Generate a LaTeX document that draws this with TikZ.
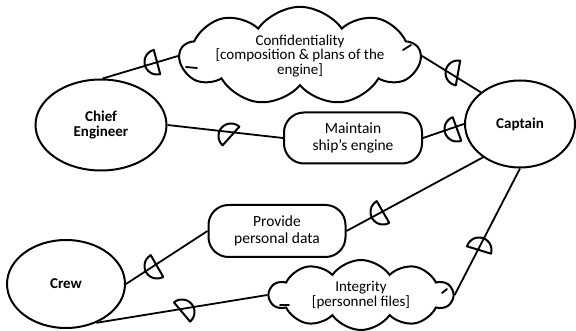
\documentclass[tikz,border=0pt]{standalone}
\usepackage{fontspec}
\setmainfont{Carlito}
\usetikzlibrary{shapes.symbols,shapes.geometric}
\begin{document}
\begin{tikzpicture}[x=1pt,y=-1pt,
  actor/.style={ellipse, draw, line width=2pt, font=\fontsize{15}{15}\selectfont\bfseries, align=center, inner sep=0pt},
  usecase/.style={rounded corners=20pt, draw, line width=2pt, font=\fontsize{15.5}{16.5}\selectfont, align=center, inner sep=0pt},
  goal/.style={cloud, cloud puffs=9, cloud puff arc=110, cloud ignores aspect, draw, line width=2pt, font=\fontsize{15}{14.5}\selectfont, align=center, inner sep=0pt},
  conn/.style={line width=1.8pt},
  tick/.style={line width=1.8pt, line cap=round},
  markline/.style={line width=2pt, line join=round},
  dmark/.pic={\draw[markline] plot[domain={#1-90}:{#1+90}, samples=25] ({12.5*cos(\x)},{12.5*sin(\x)}) -- cycle;}
]
\useasboundingbox[fill=white] (0,0) rectangle (576,331);

\node[actor, minimum width=131pt, minimum height=91pt] (chief) at (101,125) {Chief\\Engineer};
\node[actor, minimum width=110pt, minimum height=87pt] (captain) at (520,124) {Captain};
\node[actor, minimum width=118pt, minimum height=88pt] (crew) at (66,284) {Crew};

\node[goal, minimum width=240pt, minimum height=98pt] (conf) at (300,56) {Confidentiality\\{[}composition \& plans of the\\engine]};
\node[goal, cloud puffs=10, minimum width=183pt, minimum height=70pt] (integ) at (361,295) {Integrity\\{[}personnel files]};

\node[usecase, minimum width=138pt, minimum height=51pt] (maintain) at (353,138) {Maintain\\ship’s engine};
\node[usecase, minimum width=137pt, minimum height=52pt] (provide) at (277,231) {Provide\\personal data};

% small inner strokes of the clouds
\draw[tick] (186,67) -- (197,68);
\draw[tick] (403,50) -- (411,45);
\draw[tick] (280,305) -- (289,305);
\draw[tick] (442,293) -- (447,289);

\draw[conn] (chief.88) -- (conf.west);
\draw[conn] (chief.east) -- (maintain.west);
\draw[conn] (conf.east) -- (captain.141);
\draw[conn] (maintain.east) -- (captain.west);
\draw[conn] (provide.east) -- (captain.222);
\draw[conn] (crew.east) -- (provide.west);
\draw[conn] (crew.-52) -- (integ.west);
\draw[conn] (integ.east) -- (captain.south);

\pic at (157,62) {dmark=165};
\pic at (231,136) {dmark=222};
\pic at (458,73) {dmark=190};
\pic at (457,129) {dmark=160};
\pic at (383,212) {dmark=150};
\pic at (157,266) {dmark=150};
\pic at (182,312) {dmark=320};
\pic at (479,250) {dmark=287};
\end{tikzpicture}
\end{document}
